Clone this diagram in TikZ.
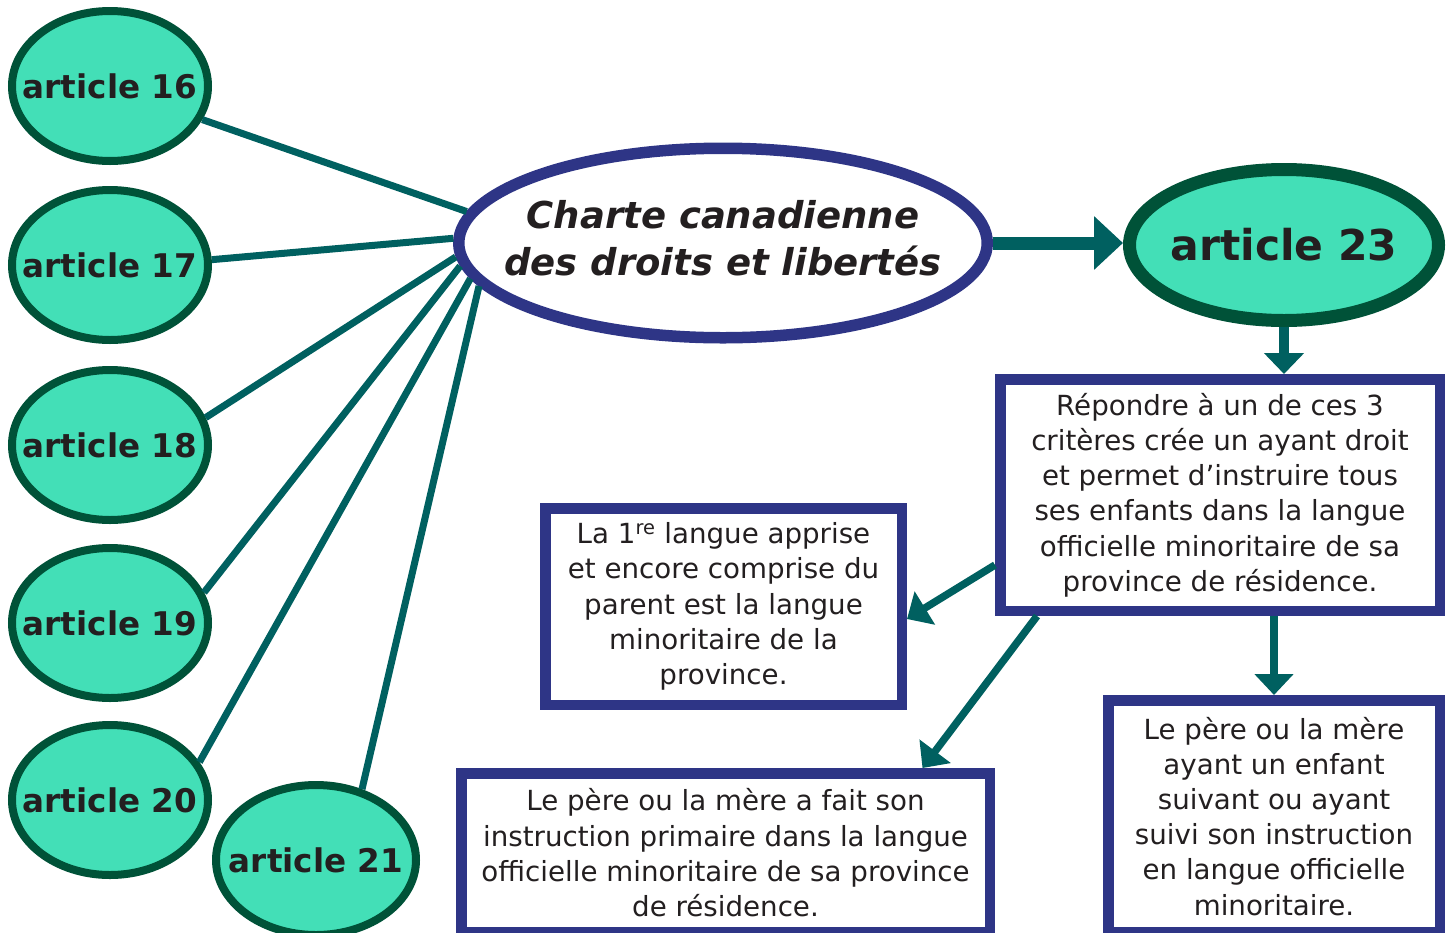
\documentclass[tikz,border=0pt]{standalone}
\usepackage{fontspec}
\setmainfont{DejaVu Sans}[ItalicFont={DejaVu Sans Oblique},BoldFont={DejaVu Sans Bold},BoldItalicFont={DejaVu Sans Bold Oblique}]
\usetikzlibrary{shapes.geometric,arrows.meta,calc}
\definecolor{mint}{RGB}{67,223,183}
\definecolor{pine}{RGB}{0,82,56}
\definecolor{tealline}{RGB}{0,96,96}
\definecolor{navy}{RGB}{46,53,134}
\definecolor{ink}{RGB}{35,31,32}
\tikzset{
	art/.style={ellipse, draw=pine, line width=8pt, fill=mint, inner sep=0pt, minimum width=196pt, minimum height=150pt, text=ink, font=\bfseries\fontsize{32.6}{39}\selectfont},
	link/.style={draw=tealline, line width=7pt},
	txtbox/.style={rectangle, draw=navy, line width=10.5pt, fill=white, inner sep=0pt, align=center, text=ink, font=\fontsize{27.7}{35.2}\selectfont},
	arr/.style={draw=tealline, line width=7.5pt, -{Triangle[length=21pt,width=38pt]}}
}
\begin{document}
\begin{tikzpicture}[x=1pt,y=-1pt]
	\useasboundingbox (0,0) rectangle (1453,932);
	\clip (0,0) rectangle (1453,932);
	\node[art] (a16) at (110,86) {\makebox[0pt]{article 16}};
	\node[art] (a17) at (110,265) {\makebox[0pt]{article 17}};
	\node[art] (a18) at (110,445) {\makebox[0pt]{article 18}};
	\node[art] (a19) at (110,623) {\makebox[0pt]{article 19}};
	\node[art] (a20) at (110,800) {\makebox[0pt]{article 20}};
	\node[art, minimum width=200pt] (a21) at (316,860) {\makebox[0pt]{article 21}};
	\node[ellipse, draw=navy, line width=11.5pt, fill=white, inner sep=0pt, minimum width=528.5pt, minimum height=189.5pt, text=ink, font=\bfseries\itshape\fontsize{37}{47}\selectfont] (charte) at (723,243)
		{\makebox[0pt]{\begin{tabular}{@{}c@{}}Charte canadienne\\des droits et libertés\end{tabular}}};
	\node[art, line width=13pt, minimum width=309pt, minimum height=151pt, font=\bfseries\fontsize{42.5}{50}\selectfont] (a23) at (1284,245) {\makebox[0pt]{article 23}};
	\draw[link] (a16.-20) -- (charte.173);
	\draw[link] (a17.3) -- (charte.179);
	\draw[link] (a18.16) -- (charte.183);
	\draw[link] (a19.18) -- (charte.185);
	\draw[link] (a20.23) -- (charte.188);
	\draw[link] (a21.57) -- (charte.190);
	\draw[draw=tealline, line width=13pt, -{Triangle[length=29pt,width=52pt]}] (charte.east) -- (charte.east -| a23.west);
	\node[txtbox, minimum width=439.5pt, minimum height=231.5pt] (crit) at (1220,495)
		{Répondre à un de ces 3\\critères crée un ayant droit\\et permet d’instruire tous\\ses enfants dans la langue\\officielle minoritaire de sa\\province de résidence.};
	\node[txtbox, minimum width=356.5pt, minimum height=196.5pt] (langue) at (723.5,606.5)
		{La 1\textsuperscript{re} langue apprise\\et encore comprise du\\parent est la langue\\minoritaire de la\\province.};
	\node[txtbox, minimum width=528.5pt, minimum height=159pt] (primaire) at (725.5,852.75)
		{Le père ou la mère a fait son\\instruction primaire dans la langue\\officielle minoritaire de sa province\\de résidence.};
	\node[txtbox, minimum width=331.5pt, minimum height=232pt] (enfant) at (1274,816.25)
		{Le père ou la mère\\ayant un enfant\\suivant ou ayant\\suivi son instruction\\en langue officielle\\minoritaire.};
	\draw[draw=tealline, line width=10pt, -{Triangle[length=21pt,width=39pt]}] (a23.south) -- (a23.south |- crit.north);
	\draw[arr] ($(crit.south west)+(0,-51)$) -- ($(langue.east)+(0,12.5)$);
	\draw[arr] ($(crit.south west)+(42,0)$) -- ($(primaire.north)+(197,0)$);
	\draw[arr] (enfant.north |- crit.south) -- (enfant.north);
\end{tikzpicture}
\end{document}
